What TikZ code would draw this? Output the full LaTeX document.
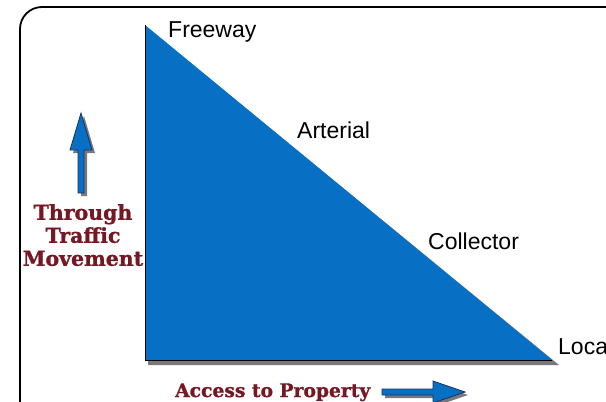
\documentclass[tikz,border=0pt]{standalone}
\usepackage{fontspec}
\setmainfont{Liberation Sans}
\newfontfamily\slabfont[BoldFeatures={FakeBold=1.2}]{DejaVu Serif}
\definecolor{roadblue}{RGB}{8,112,196}
\definecolor{arrowedge}{RGB}{20,50,100}
\definecolor{shadowgray}{RGB}{120,120,125}
\definecolor{axisred}{RGB}{118,24,36}
\tikzset{
  classlabel/.style={anchor=base west, inner sep=0pt, font=\fontsize{23}{27}\selectfont},
  axislabel/.style={inner sep=0pt, text=axisred, font=\slabfont\bfseries\fontsize{20.5}{23}\selectfont}
}

\begin{document}
\begin{tikzpicture}[x=1pt,y=-1pt]
  \useasboundingbox (0,0) rectangle (606,402);
  \clip (0,0) rectangle (606,402);

  % frame
  \draw[line width=1.8pt, rounded corners=22pt] (20,7) rectangle (640,430);

  % triangle
  \fill[shadowgray] (148,28) -- (148,365) -- (559,365) -- cycle;
  \fill[roadblue] (145,25) -- (145,360) -- (552,360) -- cycle;
  \draw[line width=1pt] (145,25) -- (145,360) -- (552,360);

  \node[classlabel] (free) at (168,37) {Freeway};
  \node[classlabel] (art) at (297,138) {Arterial};
  \node[classlabel] (coll) at (428,249) {Collector};
  \node[classlabel] (loc) at (558,354) {Local};

  % arrows
  \fill[shadowgray] (84,116) -- (95,153) -- (87,153) -- (87,196) -- (81,196)
    -- (81,153) -- (73,153) -- cycle;
  \draw[arrowedge, fill=roadblue, line width=0.8pt] (81,113) -- (92,150) -- (84,150)
    -- (84,193) -- (78,193) -- (78,150) -- (70,150) -- cycle;
  \fill[shadowgray] (468,395) -- (436,384) -- (436,392) -- (385,392) -- (385,398)
    -- (436,398) -- (436,406) -- cycle;
  \draw[arrowedge, fill=roadblue, line width=0.8pt] (465,392) -- (433,381) -- (433,389)
    -- (382,389) -- (382,395) -- (433,395) -- (433,403) -- cycle;

  \node[axislabel, align=center, anchor=north] (through) at (83,204)
    {Through\\Traffic\\Movement};
  \node[axislabel, anchor=base west, font=\slabfont\bfseries\fontsize{18.7}{22}\selectfont]
    (access) at (175,397) {Access to Property};
\end{tikzpicture}
\end{document}
